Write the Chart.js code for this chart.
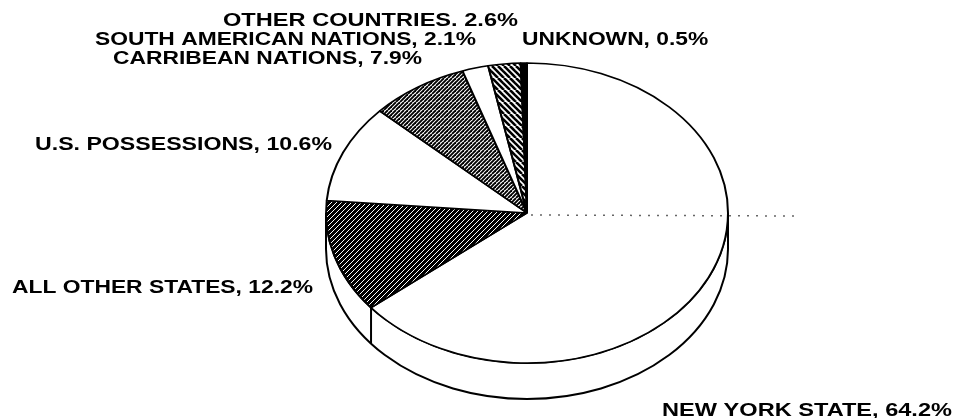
<!DOCTYPE html>
<html><head><meta charset="utf-8">
<script src="https://cdn.jsdelivr.net/npm/chart.js@4.4.1/dist/chart.umd.min.js"></script>
<style>html,body{margin:0;padding:0;background:#fff;overflow:hidden}#wrap{position:relative;width:955px;height:418px}</style>
</head><body><div id="wrap"><canvas id="c" width="955" height="418"></canvas></div>
<script>
// ---- data ----
const categories = ['NEW YORK STATE','ALL OTHER STATES','U.S. POSSESSIONS','CARRIBEAN NATIONS','SOUTH AMERICAN NATIONS','OTHER COUNTRIES','UNKNOWN'];
const shares = [64.2, 12.2, 10.6, 7.9, 2.1, 2.6, 0.5];
const shareLabels = ['64.2%','12.2%','10.6%','7.9%','2.1%','2.6%','0.5%'];
const separators = [', ', ', ', ', ', ', ', ', ', '. ', ', '];

// ---- layout / style ----
const TILT = 150 / 201;
const DEPTH = 36;
const labelLayout = [
  {x:662, y:416, w:290},
  {x:12,  y:293, w:301},
  {x:35,  y:150, w:297},
  {x:113, y:64,  w:309},
  {x:95,  y:45,  w:381},
  {x:223, y:26,  w:295},
  {x:522, y:45,  w:null}
];

function makePattern(size, draw, fix){
  const cv = document.createElement('canvas');
  cv.width = cv.height = size;
  const g = cv.getContext('2d');
  draw(g, size);
  const p = g.createPattern(cv, 'repeat');
  if (fix && p.setTransform) p.setTransform(new DOMMatrix().scale(1, 1 / TILT));
  return p;
}
// dark fine crosshatch
const patDark = makePattern(5, (g) => {
  g.fillStyle = '#000'; g.fillRect(0,0,5,5);
  g.fillStyle = '#fff';
  for (let i = 0; i < 5; i++) g.fillRect(i, 4 - i, 1, 1);
}, true);
// dense "/" hatch
const patDense = makePattern(8, (g, s) => {
  g.fillStyle = '#fff'; g.fillRect(0,0,s,s);
  g.strokeStyle = '#000'; g.lineWidth = 1.9;
  for (let x0 = -s; x0 <= s; x0 += 4) { g.beginPath(); g.moveTo(x0, s); g.lineTo(x0 + s, 0); g.stroke(); }
}, true);
// wide "\" hatch
const patWide = makePattern(12, (g, s) => {
  g.fillStyle = '#fff'; g.fillRect(0,0,s,s);
  g.strokeStyle = '#000'; g.lineWidth = 2.6;
  for (let x0 = -s; x0 <= s; x0 += 6) { g.beginPath(); g.moveTo(x0, 0); g.lineTo(x0 + s, s); g.stroke(); }
}, true);

const pie3d = {
  id: 'pie3d',
  beforeDatasetsDraw(chart) {
    const meta = chart.getDatasetMeta(0);
    const a0 = meta.data[0];
    const cx = a0.x, cy = a0.y, r = a0.outerRadius, ry = r * TILT;
    const c = chart.ctx;
    c.save();
    c.beginPath();
    c.ellipse(cx, cy, r, ry, 0, 0, Math.PI, false);
    c.lineTo(cx - r, cy + DEPTH);
    c.ellipse(cx, cy + DEPTH, r, ry, 0, Math.PI, 0, true);
    c.closePath();
    c.fillStyle = '#fff'; c.fill();
    c.lineWidth = 2; c.strokeStyle = '#000'; c.stroke();
    meta.data.forEach(arc => {
      const ang = arc.endAngle, s = Math.sin(ang);
      if (s > 0.05) {
        const x = cx + r * Math.cos(ang), y = cy + ry * s;
        c.beginPath(); c.moveTo(x, y); c.lineTo(x, y + DEPTH); c.stroke();
      }
    });
    c.restore();
    c.save();
    c.imageSmoothingEnabled = false;
    c.translate(cx, cy); c.scale(1, TILT); c.translate(-cx, -cy);
  },
  afterDatasetsDraw(chart) {
    const c = chart.ctx;
    c.restore();
    const a0 = chart.getDatasetMeta(0).data[0];
    const cx = a0.x, cy = a0.y, r = a0.outerRadius;
    // faint dotted scan line
    c.save();
    c.setLineDash([2, 7]); c.strokeStyle = '#666'; c.lineWidth = 1.5;
    c.beginPath(); c.moveTo(cx + 4, cy + 2); c.lineTo(cx + r * 1.35, cy + 3); c.stroke();
    c.restore();
    // labels
    c.save();
    c.font = 'bold 18px "Liberation Sans", Arial, sans-serif';
    c.fillStyle = '#000';
    c.textBaseline = 'alphabetic';
    const texts = categories.map((n, i) => n + separators[i] + shareLabels[i]);
    const ref = 4;
    const refSx = labelLayout[ref].w / c.measureText(texts[ref]).width;
    texts.forEach((t, i) => {
      const L = labelLayout[i];
      const sx = L.w ? L.w / c.measureText(t).width : refSx;
      c.save(); c.translate(L.x, L.y); c.scale(sx, 1); c.fillText(t, 0, 0); c.restore();
    });
    c.restore();
  }
};

new Chart(document.getElementById('c'), {
  type: 'pie',
  data: {
    labels: categories,
    datasets: [{
      data: shares,
      backgroundColor: ['#ffffff', patDark, '#ffffff', patDense, '#ffffff', patWide, '#000000'],
      borderColor: '#000',
      borderWidth: 2
    }]
  },
  options: {
    responsive: false,
    animation: false,
    events: [],
    layout: { padding: { left: 325, right: 226, top: 11, bottom: 3 } },
    plugins: { legend: { display: false }, tooltip: { enabled: false } }
  },
  plugins: [pie3d]
});
</script>
</body></html>
